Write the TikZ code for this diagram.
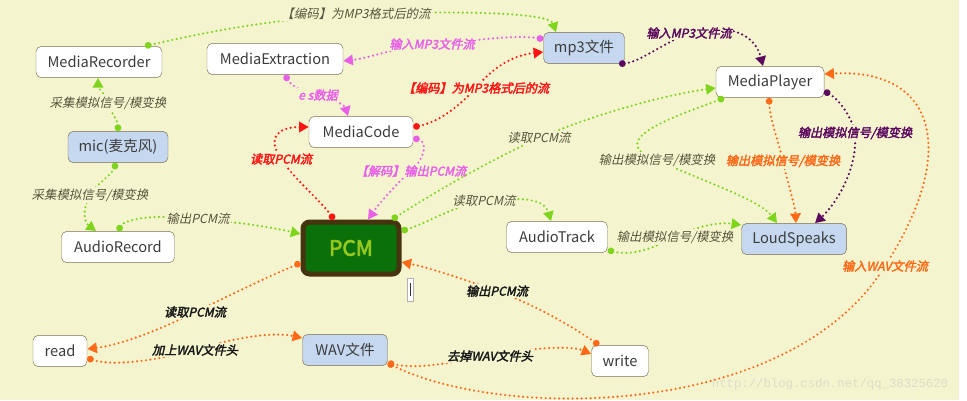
\documentclass[tikz,border=0pt]{standalone}
\usepackage{fontspec}
\setmainfont{Noto Sans CJK SC}
\newfontfamily\boxfont{Noto Sans CJK SC}
\newfontfamily\slfont[FakeSlant=0.22]{Noto Sans CJK SC}
\newfontfamily\slbfont[FakeSlant=0.22,FakeBold=2.6]{Noto Sans CJK SC}
\newfontfamily\pcmfont[FakeBold=3]{Noto Sans CJK SC}
\newfontfamily\wmfont{Liberation Mono}
\usetikzlibrary{arrows.meta}
\definecolor{bgyellow}{RGB}{244,245,206}
\definecolor{boxedge}{RGB}{120,110,80}
\definecolor{boxtext}{RGB}{60,60,60}
\definecolor{boxblue}{RGB}{197,216,240}
\definecolor{flowgreen}{RGB}{128,212,30}
\definecolor{flowred}{RGB}{255,20,20}
\definecolor{flowmagenta}{RGB}{232,96,232}
\definecolor{flowpurple}{RGB}{92,10,96}
\definecolor{floworange}{RGB}{255,106,24}
\definecolor{lblgray}{RGB}{85,85,60}
\definecolor{lbldark}{RGB}{25,25,25}
\definecolor{pcmgreen}{RGB}{10,112,10}
\definecolor{pcmedge}{RGB}{70,52,14}
\definecolor{pcmtext}{RGB}{150,200,30}
\definecolor{wmgray}{RGB}{220,220,200}
\tikzset{
  box/.style={draw=boxedge, fill=white, rounded corners=1.6mm, minimum height=9.4mm, inner sep=0pt, text=boxtext, font=\boxfont\fontsize{12.5}{15}\selectfont},
  bluebox/.style={box, fill=boxblue}
}
\tikzset{
  flow/.style={line width=0.72mm, line cap=round, dash pattern=on 0pt off 1.35mm, {Circle[length=2mm]}-{Triangle[length=2.9mm,width=3.1mm]}}
}
\tikzset{
  lbl/.style={fill=bgyellow, inner sep=0.5mm, text=lblgray, font=\slfont\fontsize{10.6}{12}\selectfont},
  blbl/.style={fill=bgyellow, inner sep=0.5mm, font=\slbfont\fontsize{10.4}{12}\selectfont},
  dlbl/.style={blbl, text=lbldark}
}
\begin{document}
\begin{tikzpicture}[x=0.3mm, y=-0.3mm]
      \useasboundingbox (0,0) rectangle (967,400);
      \fill[bgyellow] (0,0) rectangle (959,400);
      \node[box, minimum width=37.8mm] (mrec) at (99,62) {MediaRecorder};
      \node[box, minimum width=40.8mm] (mext) at (275,59) {MediaExtraction};
      \node[bluebox, minimum width=24.3mm] (mpfile) at (584,48) {mp3文件};
      \node[box, minimum width=32.4mm] (mplay) at (770,82) {MediaPlayer};
      \node[bluebox, minimum width=30mm] (mic) at (118,147) {mic(麦克风)};
      \node[box, minimum width=31.2mm] (mcode) at (361,132) {MediaCode};
      \node[draw=pcmedge, line width=1.5mm, fill=pcmgreen, rounded corners=2mm, minimum width=28.8mm, minimum height=15.6mm, text=pcmtext, font=\pcmfont\fontsize{18}{20}\selectfont] (pcm) at (351,248) {PCM};
      \node[box, minimum width=33.9mm] (arec) at (118,247) {AudioRecord};
      \node[box, minimum width=30.3mm] (atrack) at (557,237) {AudioTrack};
      \node[bluebox, minimum width=31.5mm] (spk) at (794,239) {LoudSpeaks};
      \node[box, minimum width=16.2mm] (rd) at (60,351) {read};
      \node[bluebox, minimum width=25.5mm] (wav) at (345,350) {WAV文件};
      \node[box, minimum width=17.1mm] (wr) at (620,361) {write};

      % recording side
      \draw[flow, flowgreen] (mrec.north -| 145,0) .. controls (215,30) and (270,20) .. (356,14) node[lbl] (lencrec) {【编码】为MP3格式后的流} .. controls (480,10) and (550,14) .. (mpfile.north -| 556,0);
      \draw[flow, flowgreen] (mic.north) .. controls (118,120) and (110,112) .. (108,103) node[lbl] (lsamp1) {采集模拟信号/模变换} .. controls (104,92) and (98,88) .. (mrec.south -| 98,0);
      \draw[flow, flowgreen] (mic.south -| 116,0) .. controls (112,175) and (95,185) .. (90,195) node[lbl] (lsamp2) {采集模拟信号/模变换} .. controls (82,210) and (84,222) .. (arec.north -| 96,0);
      \draw[flow, flowgreen] (arec.north -| 118,0) .. controls (125,218) and (160,214) .. (198,219) node[lbl] (lrecout) {输出PCM流} .. controls (240,222) and (275,228) .. (pcm.west |- 0,234);

      % codec
      \draw[flow, flowmagenta] (mpfile.west |- 0,39) .. controls (510,34) and (470,42) .. (432,44) node[blbl] (lmp3in) {输入MP3文件流} .. controls (400,46) and (370,58) .. (mext.east |- 0,61);
      \draw[flow, flowmagenta] (mext.south -| 285,0) .. controls (290,84) and (300,92) .. (318,95) node[blbl] (les) {e s数据} .. controls (335,99) and (345,106) .. (mcode.north -| 348,0);
      \draw[flow, flowred] (pcm.north -| 334,0) .. controls (320,200) and (295,180) .. (281,159) node[blbl] (lpcmred) {读取PCM流} .. controls (268,140) and (275,127) .. (mcode.west |- 0,127);
      \draw[flow, flowred] (mcode.east |- 0,127) .. controls (440,122) and (460,105) .. (476,88) node[blbl] (lencred) {【编码】为MP3格式后的流} .. controls (495,65) and (515,55) .. (mpfile.west |- 0,52);
      \draw[flow, flowmagenta] (mcode.east |- 0,138) .. controls (428,142) and (425,158) .. (411,171) node[blbl] (ldec) {【解码】输出PCM流} .. controls (395,185) and (378,205) .. (pcm.north -| 368,0);

      % playback side
      \draw[flow, flowgreen] (pcm.north -| 392,0) .. controls (430,195) and (490,160) .. (539,138) node[lbl] (lplayin) {读取PCM流} .. controls (600,112) and (670,94) .. (mplay.west |- 0,88);
      \draw[flow, flowgreen] (pcm.east |- 0,231) .. controls (430,222) and (455,205) .. (484,201) node[lbl] (ltrackin) {读取PCM流} .. controls (525,196) and (545,200) .. (atrack.north -| 551,0);
      \draw[flow, flowgreen] (mplay.south -| 724,0) .. controls (680,115) and (600,140) .. (657,160) node[lbl] (lplayg) {输出模拟信号/模变换} .. controls (700,180) and (760,200) .. (spk.north -| 777,0);
      \draw[flow, floworange] (mplay.south -| 769,0) .. controls (770,120) and (778,140) .. (783,161) node[blbl] (lplayo) {输出模拟信号/模变换} .. controls (788,185) and (795,205) .. (spk.north -| 796,0);
      \draw[flow, flowpurple] (mplay.east |- 0,91) .. controls (840,100) and (852,118) .. (855,133) node[blbl] (lplayp) {输出模拟信号/模变换} .. controls (858,170) and (835,205) .. (spk.north -| 815,0);
      \draw[flow, flowpurple] (mpfile.south -| 619,0) .. controls (640,62) and (660,45) .. (689,33) node[blbl] (lmp3play) {输入MP3文件流} .. controls (730,22) and (755,35) .. (mplay.north -| 763,0);
      \draw[flow, flowgreen] (atrack.east |- 0,250) .. controls (630,256) and (650,250) .. (675,237) node[lbl] (ltrackout) {输出模拟信号/模变换} .. controls (700,225) and (720,222) .. (spk.west |- 0,225);

      % wav file
      \draw[flow, floworange] (pcm.west |- 0,263) .. controls (260,280) and (225,298) .. (195,312) node[dlbl] (lread) {读取PCM流} .. controls (160,330) and (120,345) .. (rd.east |- 0,349);
      \draw[flow, floworange] (rd.east |- 0,358) .. controls (110,366) and (150,362) .. (195,350) node[dlbl] (lhead) {加上WAV文件头} .. controls (240,336) and (275,332) .. (wav.west |- 0,338);
      \draw[flow, floworange] (wr.north -| 599,0) .. controls (570,325) and (535,305) .. (497,291) node[dlbl] (lwrite) {输出PCM流} .. controls (460,278) and (430,268) .. (pcm.east |- 0,262);
      \draw[flow, floworange] (wav.east |- 0,363) .. controls (420,370) and (450,362) .. (490,356) node[dlbl] (lnohead) {去掉WAV文件头} .. controls (530,348) and (570,345) .. (wr.west |- 0,354);
      \draw[flow, floworange] (wav.east |- 0,363) .. controls (500,420) and (790,420) .. (885,266) node[blbl] (lwavin) {输入WAV文件流} .. controls (960,150) and (935,68) .. (mplay.east |- 0,74);

      % text cursor and watermark
      \draw[gray!60, fill=white] (407,278) rectangle (413,301);
      \draw[line width=0.3mm, black!80] (410,283) -- (410,296);
      \node[text=wmgray, font=\wmfont\fontsize{10.5}{12}\selectfont] (wmark) at (830,384) {http://blog.csdn.net/qq\_38325620};
\end{tikzpicture}
\end{document}
